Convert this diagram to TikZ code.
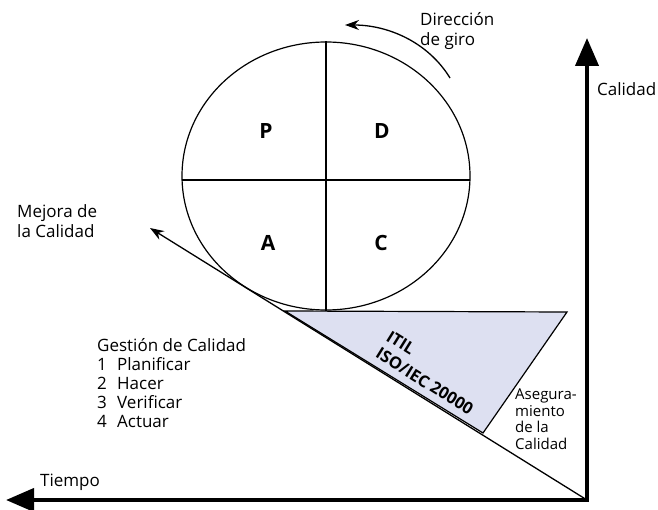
\documentclass[tikz,border=0pt]{standalone}
\usepackage{fontspec}
\setmainfont{Open Sans}
\usetikzlibrary{arrows.meta,shapes.geometric,calc}
\definecolor{trifill}{RGB}{221,224,241}
\begin{document}
\begin{tikzpicture}[x=1pt,y=-1pt,
  lbl/.style={font=\fontsize{17}{19}\selectfont, inner sep=0pt, align=left},
  quad/.style={font=\fontsize{21}{22}\selectfont\bfseries, inner sep=0pt},
  fineline/.style={line width=1.2pt},
  axis/.style={line width=4pt, {Triangle[length=28pt,width=23pt]}-{Triangle[length=28pt,width=23pt]}},
  thinarrow/.style={line width=1.3pt, -{Stealth[length=14pt,width=10pt]}}
]
\useasboundingbox (0,0) rectangle (658,510);
% triangle
\coordinate (t1) at (285,311);
\coordinate (t2) at (567,312);
\coordinate (t3) at (483,433);
\filldraw[fill=trifill, draw=black, fineline] (t1) -- (t2) -- (t3) -- cycle;
% ellipse
\node[ellipse, draw, fineline, minimum width=288pt, minimum height=268pt, inner sep=0pt] (circ) at (326,176) {};
\draw[fineline] (circ.north) -- (circ.south);
\draw[fineline] ($(circ.west)+(0.3,4)$) -- ($(circ.east)+(-0.3,4)$);
\node[quad] (P) at (266,131) {P};
\node[quad] (D) at (382,131) {D};
\node[quad] (A) at (268,243) {A};
\node[quad] (C) at (381,243) {C};
% rotation arrow
\coordinate (r1) at (450,78);
\coordinate (r2) at (345,25);
\draw[thinarrow] (r1) .. controls (428,42) and (388,25) .. (r2);
\node[lbl, anchor=north west, font=\fontsize{17}{20}\selectfont] (dir) at (420,12) {Dirección\\de giro};
% axes
\coordinate (ytip) at (587,38);
\coordinate (corner) at (587,500);
\coordinate (xtip) at (6,500);
\draw[axis] (ytip) -- (corner) -- (xtip);
\node[lbl, anchor=west] (cal) at (597,89) {Calidad};
\node[lbl, anchor=west] (tiempo) at (40,482) {Tiempo};
% diagonal
\coordinate (dtip) at (150,228);
\draw[thinarrow] (corner) -- (dtip);
\node[lbl, anchor=north west, font=\fontsize{17}{20}\selectfont] (mejora) at (17,204) {Mejora de\\la Calidad};
\node[lbl, anchor=north west] (gest) at (97,338) {Gestión de Calidad\\
\makebox[20pt][l]{1}Planificar\\
\makebox[20pt][l]{2}Hacer\\
\makebox[20pt][l]{3}Verificar\\
\makebox[20pt][l]{4}Actuar};
\node[lbl, anchor=north west, font=\fontsize{15}{16.5}\selectfont] (aseg) at (515,389) {Asegura-\\miento\\de la\\Calidad};
\node[lbl, rotate=-32, font=\fontsize{16.5}{20}\selectfont\bfseries] (itil) at (430,373) {ITIL\\ISO/IEC 20000};
\end{tikzpicture}
\end{document}
